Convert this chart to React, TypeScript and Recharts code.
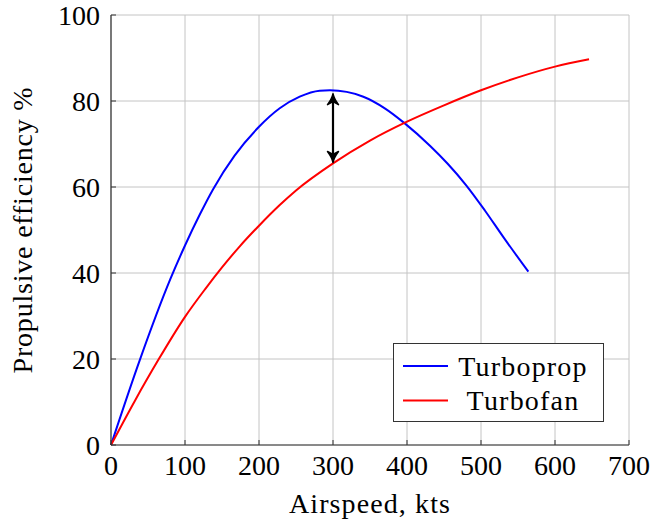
import {
  LineChart,
  Line,
  XAxis,
  YAxis,
  CartesianGrid,
  Legend,
  ReferenceLine,
  Label,
} from "recharts";

const FONT = "'Liberation Serif', 'Times New Roman', Times, serif";
const AXIS_COLOR = "#333";
const GRID_COLOR = "#c4c4c4";

// airspeed (kts) vs propulsive efficiency (%)
const turbopropSpeed = [0, 39, 80, 100, 120, 138, 167, 200, 228, 255, 282, 296, 341, 370, 397, 431, 455, 480, 505, 530, 564];
const turbopropEff = [0, 19.8, 38.5, 46.4, 53.6, 59.5, 67.3, 74, 78.3, 81, 82.4, 82.5, 81, 78.3, 74.8, 69.6, 65.4, 60.4, 54.6, 48.4, 40.3];

const turbofanSpeed = [0, 32, 64, 100, 127, 150, 174, 200, 228, 250, 300, 350, 400, 450, 500, 550, 600, 646];
const turbofanEff = [0, 10.2, 19.8, 29.8, 36.2, 41.3, 46.2, 51, 55.8, 59.2, 65.5, 70.8, 75.2, 79, 82.5, 85.5, 88, 89.7];

const seriesOrder = ["Turboprop", "Turbofan"];

const xTicks = [0, 100, 200, 300, 400, 500, 600, 700];
const yTicks = [0, 20, 40, 60, 80, 100];

// gap marker between the two curves at 300 kts
const gapSpeed = 300;
const gapTop = 81.7;
const gapBottom = 65.7;

const turbopropData = turbopropSpeed.map((x, i) => ({ x, y: turbopropEff[i] }));
const turbofanData = turbofanSpeed.map((x, i) => ({ x, y: turbofanEff[i] }));

const textStyle = { fontFamily: FONT, fontSize: 28, fill: "#000" };

// eslint-disable-next-line @typescript-eslint/no-explicit-any
function BottomTick({ x, y, payload }: any) {
  return (
    <g>
      <line x1={x} x2={x} y1={y} y2={y - 5} stroke={AXIS_COLOR} strokeWidth={1} />
      <text x={x} y={y + 30} textAnchor="middle" fontFamily={FONT} style={textStyle}>
        {payload.value}
      </text>
    </g>
  );
}

// eslint-disable-next-line @typescript-eslint/no-explicit-any
function LeftTick({ x, y, payload }: any) {
  return (
    <g>
      <line x1={x} x2={x + 5} y1={y} y2={y} stroke={AXIS_COLOR} strokeWidth={1} />
      <text x={x - 11} y={y + 9.5} textAnchor="end" fontFamily={FONT} style={textStyle}>
        {payload.value}
      </text>
    </g>
  );
}

// eslint-disable-next-line @typescript-eslint/no-explicit-any
function TopTick({ x, y }: any) {
  return <line x1={x} x2={x} y1={y} y2={y + 5} stroke={AXIS_COLOR} strokeWidth={1} />;
}

// eslint-disable-next-line @typescript-eslint/no-explicit-any
function RightTick({ x, y }: any) {
  return <line x1={x} x2={x - 5} y1={y} y2={y} stroke={AXIS_COLOR} strokeWidth={1} />;
}

// eslint-disable-next-line @typescript-eslint/no-explicit-any
function DoubleArrow({ x1, y1, y2 }: any) {
  const top = Math.min(y1, y2);
  const bot = Math.max(y1, y2);
  const head = (tip: number, dir: number) =>
    `M ${x1 - 5.5} ${tip + dir * 11} Q ${x1 - 1} ${tip + dir * 5} ${x1} ${tip} Q ${x1 + 1} ${tip + dir * 5} ${x1 + 5.5} ${tip + dir * 11} L ${x1} ${tip + dir * 8} Z`;
  return (
    <g>
      <line x1={x1} x2={x1} y1={top + 4} y2={bot - 4} stroke="#000" strokeWidth={2.2} />
      <path d={head(top, 1)} fill="#000" stroke="#000" strokeWidth={1.5} strokeLinejoin="round" />
      <path d={head(bot, -1)} fill="#000" stroke="#000" strokeWidth={1.5} strokeLinejoin="round" />
    </g>
  );
}

// eslint-disable-next-line @typescript-eslint/no-explicit-any
function LegendBox({ payload }: any) {
  const items = [...(payload ?? [])].sort(
    // eslint-disable-next-line @typescript-eslint/no-explicit-any
    (a: any, b: any) => seriesOrder.indexOf(a.value) - seriesOrder.indexOf(b.value)
  );
  return (
    <svg width={211} height={79} style={{ display: "block" }}>
      <rect x={0.5} y={0.5} width={210} height={78} fill="#fff" stroke={AXIS_COLOR} strokeWidth={1} />
      {items.map(
        // eslint-disable-next-line @typescript-eslint/no-explicit-any
        (entry: any, i: number) => {
          const cy = 23 + i * 34.5;
          return (
            <g key={entry.value}>
              <line x1={10} x2={55} y1={cy} y2={cy} stroke={entry.color} strokeWidth={2} />
              <text
                x={130}
                y={cy + 9.5}
                textAnchor="middle"
                fontFamily={FONT}
                style={{ ...textStyle, letterSpacing: 1.2 }}
              >
                {entry.value}
              </text>
            </g>
          );
        }
      )}
    </svg>
  );
}

export default function App() {
  return (
    <div style={{ position: "absolute", left: 0, top: 0, background: "#fff", fontFamily: FONT }}>
      <LineChart width={653} height={525} margin={{ top: 15, right: 24, bottom: 0, left: 0 }}>
        <CartesianGrid xAxisId="bottom" yAxisId="left" stroke={GRID_COLOR} strokeWidth={1} />

        <XAxis
          xAxisId="bottom"
          dataKey="x"
          type="number"
          domain={[0, 700]}
          ticks={xTicks}
          interval={0}
          height={80}
          tickSize={0}
          tickMargin={0}
          tickLine={false}
          axisLine={{ stroke: AXIS_COLOR, strokeWidth: 1.2 }}
          tick={<BottomTick />}
        >
          <Label
            content={({ viewBox }: any) => (
              <text
                x={viewBox.x + viewBox.width / 2}
                y={viewBox.y + 68}
                textAnchor="middle"
                fontFamily={FONT}
                style={{ ...textStyle, letterSpacing: 1.1 }}
              >
                Airspeed, kts
              </text>
            )}
          />
        </XAxis>
        <XAxis
          xAxisId="top"
          orientation="top"
          type="number"
          domain={[0, 700]}
          ticks={xTicks}
          interval={0}
          height={0}
          tickSize={0}
          tickMargin={0}
          tickLine={false}
          axisLine={{ stroke: AXIS_COLOR, strokeWidth: 1.2 }}
          tick={<TopTick />}
        />

        <YAxis
          yAxisId="left"
          type="number"
          domain={[0, 100]}
          ticks={yTicks}
          interval={0}
          width={111}
          tickSize={0}
          tickMargin={0}
          tickLine={false}
          axisLine={{ stroke: AXIS_COLOR, strokeWidth: 1.2 }}
          tick={<LeftTick />}
        >
          <Label
            content={({ viewBox }: any) => {
              const cy = viewBox.y + viewBox.height / 2;
              return (
                <text
                  x={32}
                  y={cy}
                  transform={`rotate(-90, 32, ${cy})`}
                  textAnchor="middle"
                  fontFamily={FONT}
                  style={{ ...textStyle, letterSpacing: 0.8 }}
                >
                  Propulsive efficiency %
                </text>
              );
            }}
          />
        </YAxis>
        <YAxis
          yAxisId="right"
          orientation="right"
          type="number"
          domain={[0, 100]}
          ticks={yTicks}
          interval={0}
          width={0}
          tickSize={0}
          tickMargin={0}
          tickLine={false}
          axisLine={{ stroke: AXIS_COLOR, strokeWidth: 1.2 }}
          tick={<RightTick />}
        />

        <Legend
          layout="vertical"
          align="center"
          verticalAlign="middle"
          wrapperStyle={{ left: 393, top: 343, width: 211, height: 79 }}
          content={<LegendBox />}
        />

        <Line
          xAxisId="bottom"
          yAxisId="left"
          data={turbopropData}
          dataKey="y"
          name="Turboprop"
          type="monotone"
          stroke="#0000ff"
          strokeWidth={2}
          dot={false}
          activeDot={false}
          isAnimationActive={false}
        />
        <Line
          xAxisId="bottom"
          yAxisId="left"
          data={turbofanData}
          dataKey="y"
          name="Turbofan"
          type="monotone"
          stroke="#ff0000"
          strokeWidth={2}
          dot={false}
          activeDot={false}
          isAnimationActive={false}
        />

        <ReferenceLine
          xAxisId="bottom"
          yAxisId="left"
          segment={[
            { x: gapSpeed, y: gapTop },
            { x: gapSpeed, y: gapBottom },
          ]}
          shape={<DoubleArrow />}
        />
      </LineChart>
    </div>
  );
}
